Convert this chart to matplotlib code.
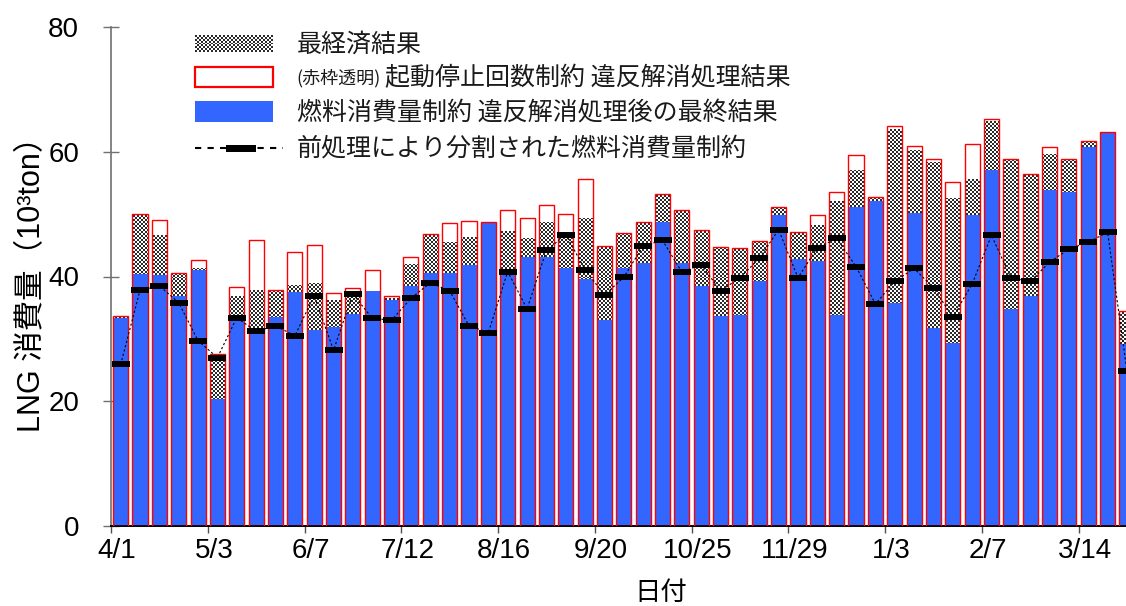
import numpy as np
import matplotlib
matplotlib.use("Agg")
import matplotlib.pyplot as plt
from matplotlib.colors import ListedColormap
from matplotlib.path import Path
from matplotlib.patches import PathPatch, Rectangle
from matplotlib.lines import Line2D
import matplotlib.transforms as mtransforms

# Weekly LNG consumption (10^3 ton), one value per week starting 4/1
startup_result = [33.7, 50.1, 49.1, 40.5, 42.6, 27.6, 38.3, 45.9, 37.9, 43.9,
                  45.1, 37.4, 38.2, 41.0, 36.8, 43.2, 46.8, 48.6, 48.9, 48.8,
                  50.7, 49.4, 51.4, 50.0, 55.6, 44.9, 46.9, 48.8, 53.2, 50.6,
                  47.4, 44.8, 44.5, 45.7, 51.1, 47.2, 49.8, 53.5, 59.5, 52.8,
                  64.1, 60.9, 58.9, 55.2, 61.2, 65.2, 58.9, 56.4, 60.7, 58.8,
                  61.8, 63.2, 34.5]
economic_result = [33.5, 50.0, 46.7, 40.4, 41.4, 27.0, 36.9, 37.8, 37.8, 38.7,
                   39.0, 36.3, 37.6, 37.6, 36.6, 42.0, 46.7, 45.6, 46.4, 48.8,
                   47.3, 46.1, 48.7, 46.4, 49.3, 44.8, 46.8, 48.7, 53.0, 50.5,
                   47.3, 44.7, 44.4, 45.6, 51.0, 47.1, 48.3, 52.1, 57.1, 52.7,
                   63.6, 60.3, 58.3, 52.6, 55.6, 65.0, 58.8, 56.2, 59.6, 58.7,
                   61.7, 63.2, 34.4]
final_result = [33.4, 40.4, 40.2, 36.9, 41.1, 20.4, 32.9, 31.4, 33.5, 37.5,
                31.4, 31.9, 34.0, 37.6, 36.2, 38.5, 40.6, 40.6, 41.8, 48.8,
                40.5, 43.1, 43.1, 41.4, 39.6, 33.1, 41.4, 42.1, 48.8, 42.1,
                38.5, 33.7, 33.8, 39.2, 49.9, 42.8, 42.5, 33.9, 51.1, 52.1,
                35.8, 50.2, 31.8, 29.3, 49.8, 57.1, 34.8, 36.8, 53.9, 53.5,
                60.8, 63.2, 29.2]
fuel_limit = [25.9, 37.8, 38.5, 35.8, 29.7, 27.0, 33.4, 31.2, 32.1, 30.5,
              36.9, 28.2, 37.2, 33.3, 33.0, 36.5, 39.0, 37.7, 32.1, 31.0,
              40.8, 34.8, 44.2, 46.7, 41.1, 37.0, 39.9, 44.9, 45.8, 40.7,
              41.9, 37.7, 39.8, 42.9, 47.5, 39.8, 44.6, 46.1, 41.6, 35.6,
              39.2, 41.3, 38.2, 33.5, 38.8, 46.6, 39.8, 39.2, 42.3, 44.4,
              45.5, 47.1, 24.8]
tick_labels = ['4/1', '5/3', '6/7', '7/12', '8/16', '9/20', '10/25',
               '11/29', '1/3', '2/7', '3/14']
weeks_per_tick = 5

BLUE = '#3366ff'
W, H = 1126, 606
fig = plt.figure(figsize=(W / 100, H / 100), dpi=100)
ax = fig.add_axes([111 / W, 1 - 526 / H, 1015 / W, 499 / H])

n = len(final_result)
x = np.arange(n) + 0.5
xmax = 52.45
bw = 0.78

# checkerboard texture clipped to the "most economic" bars
chk = ax.bar(x, economic_result, width=bw, color='none', linewidth=0, zorder=1)
paths = [p.get_path().transformed(p.get_patch_transform()) for p in chk]
clip = PathPatch(Path.make_compound_path(*paths), transform=ax.transData,
                 facecolor='none', edgecolor='none')
ax.add_patch(clip)
ny, nx = 250, 508
yy, xx = np.mgrid[0:ny, 0:nx]
board = ((xx + yy) % 2).astype(float)
checker_cmap = ListedColormap(['#2a2a2a', '#ffffff'])
im = ax.imshow(board, cmap=checker_cmap, extent=(0, xmax, 0, 80), origin='lower',
               interpolation='nearest', aspect='auto', zorder=1)
im.set_clip_path(clip)

ax.bar(x, final_result, width=bw, color=BLUE, linewidth=0, zorder=2)
ax.bar(x, startup_result, width=bw, facecolor='none', edgecolor='#ff0000',
       linewidth=1.0, zorder=3)
ax.plot(x, fuel_limit, color='black', linestyle=(0, (2, 2)), linewidth=0.8,
        marker='_', markersize=12.5, markeredgewidth=4.3, zorder=4)

ax.set_xlim(0, xmax)
ax.set_ylim(0, 80)
ax.set_yticks(np.arange(0, 81, 20))
ax.set_xticks(np.arange(len(tick_labels)) * weeks_per_tick)
ax.set_xticklabels(tick_labels)

for s in ('top', 'right'):
    ax.spines[s].set_visible(False)
ax.spines['left'].set_color('#707070')
ax.spines['left'].set_linewidth(1.2)
ax.spines['bottom'].set_color('black')
ax.spines['bottom'].set_linewidth(1.4)

ax.tick_params(axis='y', direction='inout', length=12, width=1, color='#707070',
               labelsize=20, pad=17)
ax.tick_params(axis='x', direction='out', length=5, width=1, color='#505050',
               labelsize=20, pad=4)
for lab in ax.get_xticklabels() + ax.get_yticklabels():
    lab.set_fontfamily('Liberation Sans')
offset = mtransforms.ScaledTranslation(6 / 100, 0, fig.dpi_scale_trans)
for lab in ax.get_xticklabels():
    lab.set_transform(lab.get_transform() + offset)

ax.set_xlabel('日付', fontsize=19, family=['Noto Sans CJK JP', 'DejaVu Sans'])
ax.xaxis.set_label_coords((661 - 111) / 1015, -(592 - 526) / 499)
ax.xaxis.label.set_va('center')
ax.set_ylabel('LNG 消費量（10³ton）', fontsize=22,
              family=['Liberation Sans', 'Noto Sans CJK JP'])
ax.yaxis.set_label_coords((32 - 111) / 1015, 0.5)
ax.yaxis.label.set_va('center')


# legend drawn in figure pixel coordinates
def fx(px):
    return px / W


def fy(py):
    return 1 - py / H


lax = fig.add_axes([fx(195), fy(52), (273 - 195) / W, (52 - 35) / H])
lyy, lxx = np.mgrid[0:9, 0:39]
lax.imshow(((lxx + lyy) % 2).astype(float), cmap=checker_cmap,
           interpolation='nearest', aspect='auto')
lax.set_axis_off()

fig.add_artist(Rectangle((fx(195), fy(87)), (273 - 195) / W, 20 / H,
                         transform=fig.transFigure, facecolor='white',
                         edgecolor='#ff0000', linewidth=1.6))
fig.add_artist(Rectangle((fx(195), fy(122)), (273 - 195) / W, 21 / H,
                         transform=fig.transFigure, facecolor=BLUE,
                         edgecolor='none'))
fig.add_artist(Line2D([fx(195), fx(283)], [fy(148), fy(148)],
                      transform=fig.transFigure, color='black', linewidth=1.5,
                      linestyle=(0, (3, 3))))
fig.add_artist(Rectangle((fx(226), fy(151.5)), 30 / W, 7 / H,
                         transform=fig.transFigure, facecolor='black',
                         edgecolor='none'))

jp = ['Noto Sans CJK JP', 'DejaVu Sans']
tc = '#1a1a1a'
fig.text(fx(297), fy(45), '最経済結果', fontsize=18, family=jp, va='center', color=tc)
fig.text(fx(296), fy(78), '(赤枠透明)', fontsize=13, family=jp, va='center', color=tc)
fig.text(fx(385), fy(78), '起動停止回数制約 違反解消処理結果', fontsize=18, family=jp,
         va='center', color=tc)
fig.text(fx(297), fy(112), '燃料消費量制約 違反解消処理後の最終結果', fontsize=18,
         family=jp, va='center', color=tc)
fig.text(fx(297), fy(148), '前処理により分割された燃料消費量制約', fontsize=18,
         family=jp, va='center', color=tc)

fig.savefig('out.png', dpi=100)
